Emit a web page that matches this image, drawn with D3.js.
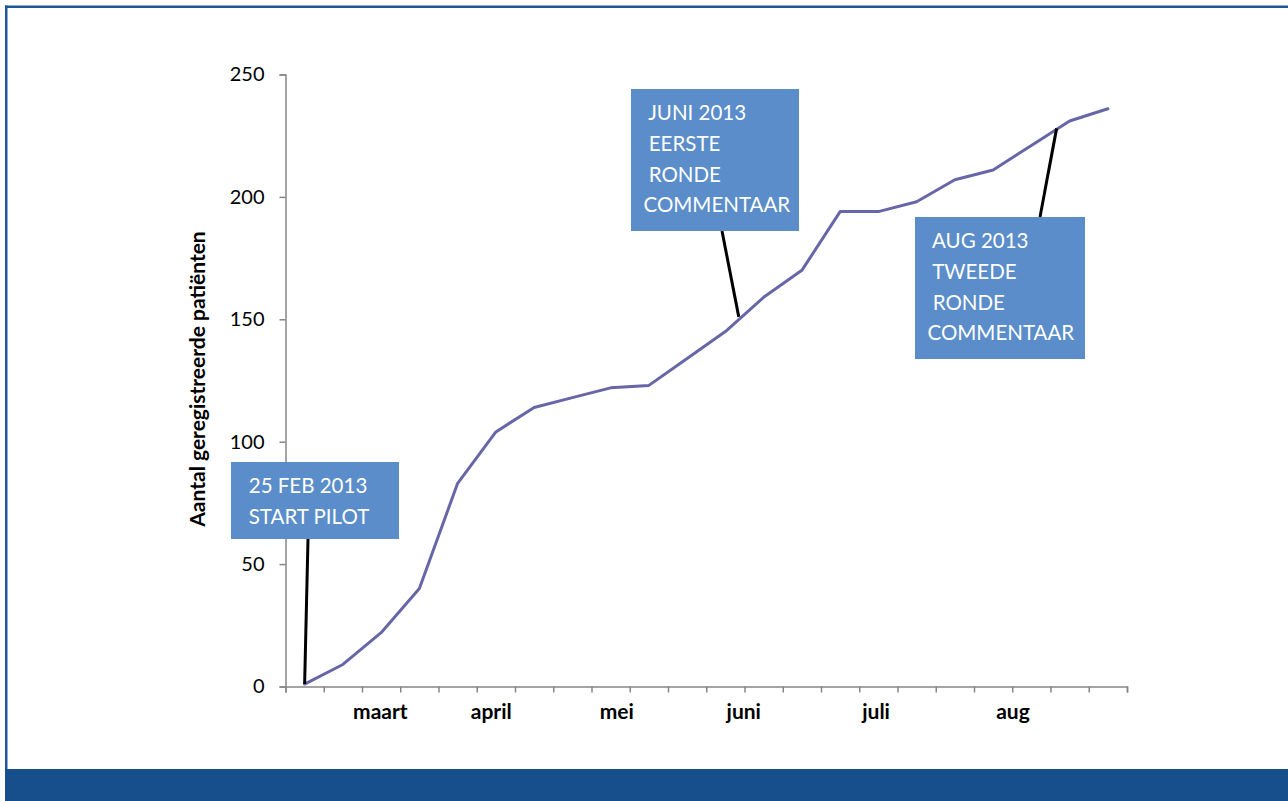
<!DOCTYPE html>
<html>
<head>
<meta charset="utf-8">
<script src="https://cdn.jsdelivr.net/npm/d3@7"></script>
<style>
  html, body { margin: 0; padding: 0; background: #ffffff; }
  svg { display: block; }
  text { font-family: Lato, "Open Sans", sans-serif; }
</style>
</head>
<body>
<svg id="chart" width="1288" height="801"></svg>
<script>
// Weekly cumulative count of registered patients, from the pilot start on 25 Feb 2013
const weeks = d3.range(22);
const patients = [1, 9, 22, 40, 83, 104, 114, 118, 122, 123, 134, 145, 159, 170, 194, 194, 198, 207, 211, 221, 231, 236];

// Month labels along the week axis (position in weeks)
const monthNames = ["maart", "april", "mei", "juni", "juli", "aug"];
const monthWeek = [1.98, 4.88, 8.16, 11.48, 14.94, 18.52];

const yTicks = [0, 50, 100, 150, 200, 250];
const yTitle = "Aantal geregistreerde patiënten";

// Milestone notes: text lines, week and count where the pointer touches the curve
const noteLines = [
  [" 25 FEB 2013", " START PILOT"],
  [" JUNI 2013", " EERSTE", " RONDE", "COMMENTAAR"],
  [" AUG 2013", " TWEEDE", " RONDE", "COMMENTAAR"]
];
const noteWeek = [0, 11.35, 19.66];
const noteCount = [1, 151, 228];

const svg = d3.select("#chart");

// Page frame
const frameColor = "#21579a";
svg.append("rect").attr("x", 5).attr("y", 5.5).attr("width", 1283).attr("height", 2.5).attr("fill", frameColor);
svg.append("rect").attr("x", 5).attr("y", 5.5).attr("width", 2.5).attr("height", 765).attr("fill", frameColor);
svg.append("rect").attr("x", 5).attr("y", 769).attr("width", 1283).attr("height", 32).attr("fill", "#164f8b");

// Plot area
const plotLeft = 285.5, plotRight = 1127, plotTop = 74.5, plotBottom = 686.5;
const x = d3.scaleBand().domain(weeks).range([plotLeft, plotRight]).paddingInner(0).paddingOuter(0);
const xi = d3.scaleLinear().domain([0, weeks.length]).range([plotLeft, plotRight]);
const y = d3.scaleLinear().domain([0, 250]).range([plotBottom, plotTop]);
const axisColor = "#868686";

// Y axis
const gy = svg.append("g")
  .attr("transform", `translate(${plotLeft},0)`)
  .call(d3.axisLeft(y).tickValues(yTicks).tickSize(6).tickSizeOuter(6).tickPadding(15));
gy.select(".domain").attr("stroke", axisColor).attr("stroke-width", 1.5);
gy.selectAll(".tick line").attr("stroke", axisColor).attr("stroke-width", 1.5);
gy.selectAll(".tick text").attr("fill", "#000").attr("font-size", 20).attr("font-family", "Lato, sans-serif");

// X axis: tick marks between weeks
const gx = svg.append("g")
  .attr("transform", `translate(0,${plotBottom})`)
  .call(d3.axisBottom(xi).tickValues(d3.range(weeks.length + 1)).tickFormat("").tickSize(6).tickSizeOuter(6));
gx.select(".domain").attr("stroke", axisColor).attr("stroke-width", 1.5);
gx.selectAll(".tick line").attr("stroke", axisColor).attr("stroke-width", 1.5);

// Month labels
svg.append("g").selectAll("text")
  .data(monthNames)
  .join("text")
  .attr("x", (d, i) => xi(monthWeek[i] + 0.5))
  .attr("y", 719)
  .attr("text-anchor", "middle")
  .attr("font-size", 21)
  .attr("font-weight", "bold")
  .attr("fill", "#000")
  .text(d => d);

// Y axis title
svg.append("text")
  .attr("transform", `translate(205,379) rotate(-90)`)
  .attr("text-anchor", "middle")
  .attr("font-size", 21)
  .attr("font-weight", "bold")
  .attr("fill", "#000")
  .text(yTitle);

// Cumulative line
const line = d3.line()
  .x((d, i) => x(weeks[i]) + x.bandwidth() / 2)
  .y(d => y(d));
svg.append("path")
  .datum(patients)
  .attr("d", line)
  .attr("fill", "none")
  .attr("stroke", "#6767a8")
  .attr("stroke-width", 3)
  .attr("stroke-linejoin", "round")
  .attr("stroke-linecap", "round");

// Milestone notes
const boxes = [
  { x: 231, y: 462, w: 168, h: 77, px: 308, py: 539 },
  { x: 631, y: 89, w: 168, h: 142, px: 722, py: 231 },
  { x: 915, y: 217, w: 170, h: 142, px: 1040, py: 217 }
];
const notes = svg.append("g");
noteLines.forEach((lines, k) => {
  const b = boxes[k];
  notes.append("line")
    .attr("x1", b.px).attr("y1", b.py)
    .attr("x2", xi(noteWeek[k] + 0.5)).attr("y2", y(noteCount[k]))
    .attr("stroke", "#000").attr("stroke-width", 3);
  notes.append("rect")
    .attr("x", b.x).attr("y", b.y).attr("width", b.w).attr("height", b.h)
    .attr("fill", "#5a8dc9");
  notes.append("g").selectAll("text")
    .data(lines)
    .join("text")
    .attr("x", b.x + 12.5)
    .attr("y", (d, i) => b.y + 24 + i * 30.6)
    .attr("dy", "0.36em")
    .attr("font-size", 20.5)
    .attr("fill", "#fff")
    .style("white-space", "pre")
    .text(d => d);
});
</script>
</body>
</html>
